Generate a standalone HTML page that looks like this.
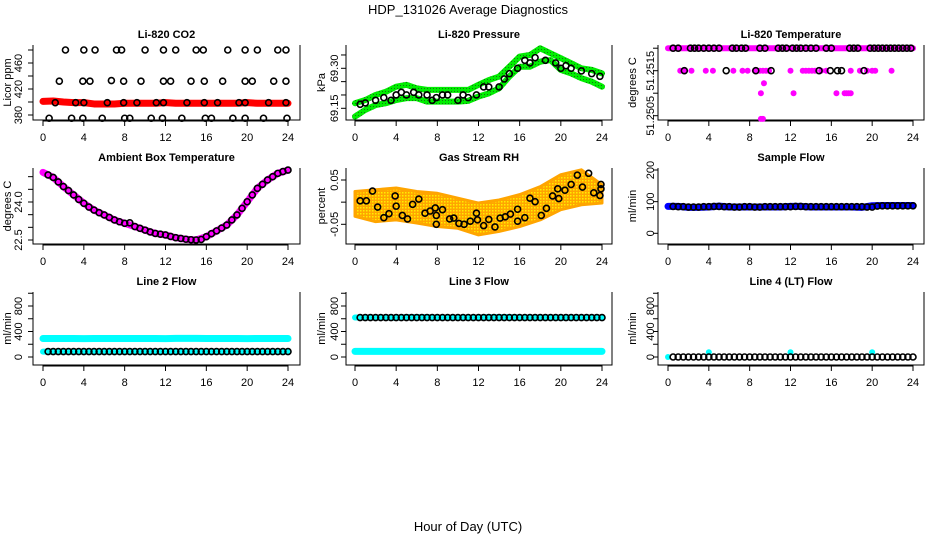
<!DOCTYPE html>
<html><head><meta charset="utf-8"><style>
html,body{margin:0;padding:0;background:#fff;}
svg{display:block;font-family:"Liberation Sans",sans-serif;}
</style></head><body>
<svg id="chart" width="936" height="540" viewBox="0 0 936 540" xmlns="http://www.w3.org/2000/svg">
<defs>
<pattern id="rhpat" width="3" height="3" patternUnits="userSpaceOnUse"><rect width="3" height="3" fill="#ffa500"/><rect x="0" y="0" width="1.5" height="1.5" fill="#ffee00"/></pattern>
<pattern id="grpat" width="3" height="3" patternUnits="userSpaceOnUse"><rect width="3" height="3" fill="#00ee00"/><rect x="1" y="1" width="1" height="1" fill="#117711"/></pattern>
</defs>
<text x="468" y="14" font-size="13" text-anchor="middle">HDP_131026  Average Diagnostics</text>
<text x="468" y="531" font-size="13" text-anchor="middle">Hour of Day (UTC)</text>
</svg>
<script>
// ---------- data ----------
const xTicks = [0,4,8,12,16,20,24];
// CO2
const co2RedHours = [0,1,2,3,4,5,6,7,8,9,10,11,12,13,14,15,16,17,18,19,20,21,22,23,24];
const co2RedVals = [401,401.5,400,399,399,397,397,397,398,398,398,398,399,398,398,398,398,398,398,398,399,398,398,398,398];
const co2BlkX = [2.2,4,5.1,7.2,7.7,10,11.8,13,15,15.7,18.1,19.8,21,23,23.8, 1.6,3.9,4.6,6.7,7.9,9.6,11.8,12.5,14.5,15.8,17.6,19.8,20.5,22.6,23.8, 1.2,3.2,4,6.3,7.9,9.2,11.1,11.8,14.1,15.8,17.1,19.2,19.8,22.1,23.8, 0.6,2.8,3.9,5.8,8,8.5,10.6,11.7,13.6,15.9,16.5,18.6,19.8,21.6,23.9];
const co2BlkY = [480,480,480,480,480,480,480,480,480,480,480,480,480,480,480, 432,432,432,433,432,432,432,432,432,432,432,432,432,432,432, 399,399,399,399,399,399,399,399,399,399,399,399,399,399,399, 375,375,375,375,375,375,375,375,375,375,375,375,375,375,375];
const co2Ticks = [380,400,420,440,460,480];
const co2Labels = [380,420,460];
// Pressure
const pressHours = [0,1,2,3,4,5,6,7,8,9,10,11,12,13,14,15,16,17,18,19,20,21,22,23,24];
const pressUpper = [69.169,69.181,69.20,69.212,69.231,69.238,69.225,69.219,69.219,69.219,69.219,69.219,69.238,69.256,69.269,69.306,69.344,69.35,69.375,69.356,69.338,69.319,69.30,69.294,69.281];
const pressLower = [69.119,69.144,69.162,69.169,69.181,69.188,69.188,69.175,69.175,69.175,69.175,69.178,69.194,69.206,69.225,69.269,69.306,69.306,69.325,69.331,69.294,69.281,69.263,69.25,69.231];
const pressBlkX = [0.5,1,2,2.8,3.5,4,4.5,5,5.7,6.2,7,7.5,7.9,8.5,9,10,10.5,11,11.8,12.5,13,14,14.5,15,15.8,16.5,17,17.5,18.5,19.5,20,20.5,21,22,23,23.8];
const pressBlkY = [69.165,69.17,69.18,69.19,69.18,69.2,69.21,69.2,69.21,69.2,69.2,69.18,69.19,69.2,69.2,69.18,69.2,69.19,69.2,69.23,69.23,69.23,69.26,69.28,69.3,69.33,69.32,69.34,69.33,69.32,69.3,69.31,69.3,69.29,69.28,69.27];
const pressTicks = [69.15,69.20,69.25,69.30,69.35];
const pressLabels = [69.15,69.30];
// Li-820 temperature
const tempBandHours = [0,24];
const tempBandVals = [51.2520,51.2520];
const tempMagX = [1.2,1.6,2.3,3.7,4.4,6.4,7.3,7.8,8.5,9,9.3,9.6,9.9,12,13.2,13.5,13.8,14.1,14.4,15,15.5,17.9,18.8,19.5,20,20.3,21.9, 9.4, 9.1,12.3,16.5,17.3,17.5,17.7,17.9, 9.1,9.3];
const tempMagY = [51.2515,51.2515,51.2515,51.2515,51.2515,51.2515,51.2515,51.2515,51.2515,51.2515,51.2515,51.2515,51.2515,51.2515,51.2515,51.2515,51.2515,51.2515,51.2515,51.2515,51.2515,51.2515,51.2515,51.2515,51.2515,51.2515,51.2515, 51.25122, 51.2510,51.2510,51.2510,51.2510,51.2510,51.2510,51.2510, 51.25043,51.25043];
const tempBlkX = [0.5,1,2.2,2.6,3,3.5,4,4.5,5,6.3,6.7,7.2,7.6,9,9.5,10.8,11.2,11.6,12.2,12.6,13,13.5,14,14.5,15.5,16,17.8,18.2,18.6,19.8,20.2,20.6,21,21.4,21.8,22.2,22.6,23,23.4,23.8, 1.6,5.7,8.6,10.1,14.8,15.9,16.6,17,19.2];
const tempBlkY = [51.252,51.252,51.252,51.252,51.252,51.252,51.252,51.252,51.252,51.252,51.252,51.252,51.252,51.252,51.252,51.252,51.252,51.252,51.252,51.252,51.252,51.252,51.252,51.252,51.252,51.252,51.252,51.252,51.252,51.252,51.252,51.252,51.252,51.252,51.252,51.252,51.252,51.252,51.252,51.252, 51.2515,51.2515,51.2515,51.2515,51.2515,51.2515,51.2515,51.2515,51.2515];
const tempTicks = [51.2505,51.2510,51.2515,51.2520];
const tempLabels = ["51.2505","51.2515"];
// Ambient box temperature
const ambHours = [0,1,2,3,4,5,6,7,8,9,10,11,12,13,14,15,16,17,18,19,20,21,22,23,24];
const ambVals = [25.17,24.97,24.61,24.28,23.95,23.68,23.49,23.29,23.16,23.03,22.89,22.76,22.70,22.59,22.53,22.50,22.63,22.86,23.09,23.49,24.01,24.54,24.87,25.13,25.26];
const ambBlkX = [0.5,1,1.5,2,2.5,3,3.5,4,4.5,5,5.5,6,6.5,7,7.5,8,8.5,9,9.5,10,10.5,11,11.5,12,12.5,13,13.5,14,14.5,15,15.5,16,16.5,17,17.5,18,18.5,19,19.5,20,20.5,21,21.5,22,22.5,23,23.5,24];
const ambBlkY = [25.07,24.97,24.79,24.61,24.45,24.28,24.1,23.95,23.8,23.68,23.58,23.49,23.39,23.29,23.22,23.16,23.18,23.03,22.96,22.89,22.82,22.76,22.73,22.70,22.64,22.59,22.56,22.53,22.51,22.50,22.52,22.63,22.75,22.86,22.97,23.09,23.29,23.49,23.75,24.01,24.28,24.54,24.7,24.87,25.0,25.13,25.2,25.26];
const ambTicks = [22.5,23.0,23.5,24.0,24.5,25.0];
const ambLabels = ["22.5","24.0"];
// Gas stream RH
const rhHours = [0,2,4,6,8,10,12,14,16,18,20,22,24];
const rhUpper = [0.024,0.028,0.032,0.024,0.02,0.009,-0.002,0.005,0.017,0.035,0.062,0.073,0.039];
const rhLower = [-0.032,-0.044,-0.04,-0.047,-0.055,-0.059,-0.074,-0.066,-0.055,-0.04,-0.017,-0.006,-0.002];
const rhBlkX = [0.5,1.1,1.7,2.2,2.8,3.3,3.9,4,4.6,5.1,5.6,6.2,6.8,7.3,7.8,7.9,7.9,8.5,9.2,9.6,10.1,10.6,11.2,11.8,11.9,12.5,13,13.6,14.1,14.6,15.1,15.8,15.8,16.5,17,17.5,18.1,18.6,19.2,19.7,19.8,20.4,21,21.6,22.1,22.7,23.2,23.8,23.9,23.9];
const rhBlkY = [0.003,0.003,0.025,-0.011,-0.035,-0.026,0.014,-0.009,-0.03,-0.038,-0.005,0.007,-0.025,-0.02,-0.013,-0.03,-0.05,-0.017,-0.038,-0.036,-0.048,-0.05,-0.043,-0.025,-0.04,-0.053,-0.039,-0.056,-0.036,-0.033,-0.027,-0.016,-0.043,-0.035,0.009,0.001,-0.03,-0.014,0.014,0.03,0.008,0.027,0.04,0.061,0.034,0.065,0.021,0.015,0.04,0.03];
const rhTicks = [-0.05,0,0.05];
const rhLabels = ["-0.05","0.05"];
// Sample flow
const flowHours = [0,1,2,3,4,5,6,7,8,9,10,11,12,13,14,15,16,17,18,19,20,21,22,23,24];
const sampleBlue = [85,85,82,82,83,86,83,83,83,83,83,83,85,85,83,83,83,83,83,82,87,88,88,88,88];
const sampleBlk = [85,84,84,83,83,83,84,84,85,85,84,84,83,83,84,84,83,83,84,84,84,84,84,84,85,85,84,84,84,84,84,84,84,84,84,84,84,84,83,83,86,87,87,87,87,87,87,87];
const sampleTicks = [0,100,200];
const sampleLabels = ["0","100","200"];
const halfHours = [0.5,1,1.5,2,2.5,3,3.5,4,4.5,5,5.5,6,6.5,7,7.5,8,8.5,9,9.5,10,10.5,11,11.5,12,12.5,13,13.5,14,14.5,15,15.5,16,16.5,17,17.5,18,18.5,19,19.5,20,20.5,21,21.5,22,22.5,23,23.5,24];
// Line flows
const line2Cyan = [290,290,290,290,288,290,290,290,290,290,290,290,288,292,292,292,290,290,290,290,288,290,290,290,290];
const line2Blk = 85;
const line3CyanLow = [88,88,88,88,88,88,88,88,88,88,88,88,88,88,88,88,88,88,88,88,88,88,88,88,88];
const line3CyanHigh = [620,620,620,620,615,625,625,625,620,620,620,620,620,625,625,625,620,620,620,620,615,620,620,620,620];
const line3Blk = 618;
const line4CyanX = [0,4,12,20];
const line4CyanY = [0,75,75,75];
const line4Blk = 0;
const lineTicks = [0,200,400,600,800,1000];
const lineLabels = ["0","400","800"];

// ---------- layout ----------
const svg = document.getElementById('chart');
const NS = 'http://www.w3.org/2000/svg';
const cols = [{l:33,r:300,x0:43,x24:288,lab:19,tit:8},{l:346,r:612,x0:355,x24:602,lab:335,tit:322},{l:658,r:924,x0:668,x24:913,lab:651,tit:633}];
const rows = [{t:45,b:120},{t:168,b:244},{t:292,b:365}];

function mk(tag, attrs, parent){
  const e = document.createElementNS(NS, tag);
  for (const k in attrs) e.setAttribute(k, attrs[k]);
  (parent||svg).appendChild(e);
  return e;
}
function makePanel(c, r, name, title, ytitle, v0, p0, v1, p1, ticks, labels){
  const C = cols[c], R = rows[r];
  const g = mk('g', {});
  
  
  const sx = h => C.x0 + (C.x24 - C.x0) * h / 24;
  const sy = v => p0 + (p1 - p0) * (v - v0) / (v1 - v0);
  const tt = mk('text', {x:(C.l+C.r)/2, y:R.t-7, 'font-size':11, 'font-weight':'bold', 'text-anchor':'middle'}, g);
  tt.textContent = title;
  
  
  const box = mk('path', {d:`M${C.l} ${R.t}V${R.b}H${C.r}V${R.t}`, fill:'none', stroke:'#000', 'stroke-width':1}, g);
  
  
  const xa = mk('g', {}, g);
  
  
  mk('line', {x1:sx(0), x2:sx(24), y1:R.b+1, y2:R.b+1, stroke:'#000'}, xa);
  xTicks.forEach(h => {
    mk('line', {x1:sx(h), x2:sx(h), y1:R.b, y2:R.b+6, stroke:'#000'}, xa);
    const t = mk('text', {x:sx(h), y:R.b+21, 'font-size':11, 'text-anchor':'middle'}, xa);
    t.textContent = h;
  });
  const ya = mk('g', {}, g);
  
  
  mk('line', {x1:C.l, x2:C.l, y1:sy(ticks[0]), y2:sy(ticks[ticks.length-1]), stroke:'#000'}, ya);
  ticks.forEach(v => mk('line', {x1:C.l-5, x2:C.l, y1:sy(v), y2:sy(v), stroke:'#000'}, ya));
  labels.forEach(v => {
    const y = sy(+v);
    const t = mk('text', {x:C.lab, y:y, 'font-size':11, 'text-anchor':'middle', 'dominant-baseline':'central', transform:`rotate(-90 ${C.lab} ${y})`}, ya);
    t.textContent = v;
  });
  const ym = (R.t + R.b) / 2;
  const yt = mk('text', {x:C.tit, y:ym, 'font-size':11, 'text-anchor':'middle', 'dominant-baseline':'central', transform:`rotate(-90 ${C.tit} ${ym})`}, g);
  yt.textContent = ytitle;
  
  
  return {g, sx, sy};
}
function band(P, xs, ys, color, w, name){
  const pl = mk('polyline', {points: xs.map((h,i)=>P.sx(h)+','+P.sy(ys[i])).join(' '), fill:'none', stroke:color, 'stroke-width':w, 'stroke-linejoin':'round', 'stroke-linecap':'round'}, P.g);
  
  
}
function dots(P, xs, ys, color, rad, name){
  const gg = mk('g', {}, P.g);
  
  
  xs.forEach((h,i) => mk('circle', {cx:P.sx(h), cy:P.sy(ys[i]), r:rad, fill:color}, gg));
}
function circles(P, xs, ys, name){
  const gg = mk('g', {}, P.g);
  
  
  xs.forEach((h,i) => mk('circle', {cx:P.sx(h), cy:P.sy(ys[i]), r:3, fill:'none', stroke:'#000', 'stroke-width':1.6}, gg));
}

// Panel 1: CO2
let P = makePanel(0,0,'co2-panel','Li-820 CO2','Licor ppm',380,115,460,63,co2Ticks,co2Labels.map(String));
band(P, co2RedHours, co2RedVals, '#ff0000', 7, 'co2-red-series');
circles(P, co2BlkX, co2BlkY, 'co2-black-points');

// Panel 2: Pressure
P = makePanel(1,0,'pressure-panel','Li-820 Pressure','kPa',69.15,108.3,69.30,68.3,pressTicks,pressLabels.map(v=>v.toFixed(2)));
band(P, pressHours, pressUpper, 'url(#grpat)', 6, 'pressure-upper-band');
band(P, pressHours, pressLower, 'url(#grpat)', 6, 'pressure-lower-band');
circles(P, pressBlkX, pressBlkY, 'pressure-black-points');

// Panel 3: temperature
P = makePanel(2,0,'li820-temp-panel','Li-820 Temperature','degrees C',51.2505,115.7,51.2515,70.7,tempTicks,tempLabels);
band(P, tempBandHours, tempBandVals, '#ff00ff', 6, 'temp-magenta-band');
dots(P, tempMagX, tempMagY, '#ff00ff', 3, 'temp-magenta-points');
circles(P, tempBlkX, tempBlkY, 'temp-black-points');

// Panel 4: ambient
P = makePanel(0,1,'ambient-temp-panel','Ambient Box Temperature','degrees C',22.5,240,24.0,202,ambTicks,ambLabels);
band(P, ambHours, ambVals, '#ff00ff', 7, 'ambient-magenta-series');
circles(P, ambBlkX, ambBlkY, 'ambient-black-points');

// Panel 5: RH
P = makePanel(1,1,'rh-panel','Gas Stream RH','percent',-0.05,224.3,0.05,180,rhTicks,rhLabels);
{
  const pts = rhHours.map((h,i)=>P.sx(h)+','+P.sy(rhUpper[i])).concat(rhHours.slice().reverse().map((h,i)=>P.sx(h)+','+P.sy(rhLower[rhHours.length-1-i])));
  const pg = mk('polygon', {points: pts.join(' '), fill:'url(#rhpat)', stroke:'#ffa500', 'stroke-width':3, 'stroke-linejoin':'round'}, P.g);
  
  
}
circles(P, rhBlkX, rhBlkY, 'rh-black-points');

// Panel 6: sample flow
P = makePanel(2,1,'sample-flow-panel','Sample Flow','ml/min',0,233.3,200,170,sampleTicks,sampleLabels);
band(P, flowHours, sampleBlue, '#0000ff', 7, 'sample-blue-series');
circles(P, halfHours, sampleBlk, 'sample-black-points');

// Panel 7: Line 2
P = makePanel(0,2,'line2-flow-panel','Line 2 Flow','ml/min',0,357,800,306,lineTicks,lineLabels);
band(P, flowHours, line2Cyan, '#00ffff', 7, 'line2-cyan-series');
band(P, [0,24], [line2Blk,line2Blk], '#00ffff', 6, 'line2-cyan-low');
circles(P, halfHours, halfHours.map(()=>line2Blk), 'line2-black-points');

// Panel 8: Line 3
P = makePanel(1,2,'line3-flow-panel','Line 3 Flow','ml/min',0,357,800,306,lineTicks,lineLabels);
band(P, flowHours, line3CyanLow, '#00ffff', 7, 'line3-cyan-low');
band(P, flowHours, line3CyanHigh, '#00ffff', 6, 'line3-cyan-high');
circles(P, halfHours, halfHours.map(()=>line3Blk), 'line3-black-points');

// Panel 9: Line 4
P = makePanel(2,2,'line4-flow-panel','Line 4 (LT) Flow','ml/min',0,357,800,306,lineTicks,lineLabels);
dots(P, line4CyanX, line4CyanY, '#00ffff', 3, 'line4-cyan-points');
circles(P, halfHours, halfHours.map(()=>line4Blk), 'line4-black-points');
</script>
</body></html>
